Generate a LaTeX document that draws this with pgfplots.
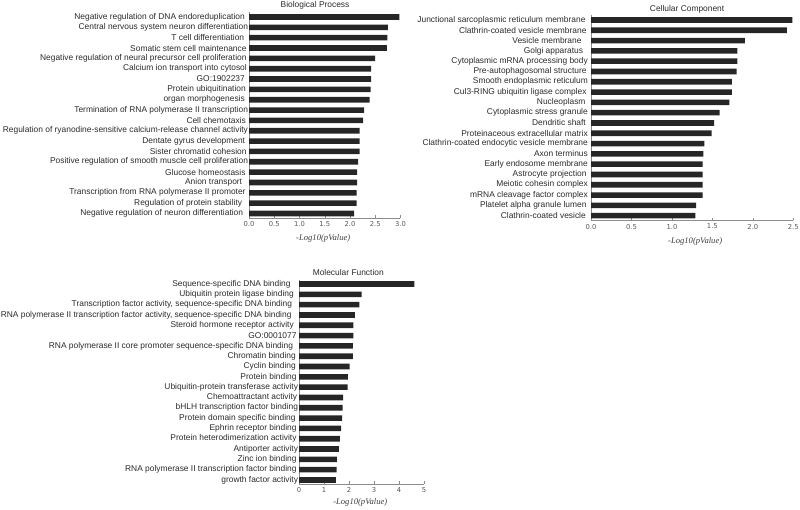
\documentclass[border=0pt]{standalone}
\usepackage{pgfplots}
\pgfplotsset{compat=1.18}
\usepackage{fontspec}
\setmainfont{Liberation Sans}
\newfontfamily\dejavu{DejaVu Sans}
\newfontfamily\timesf{Liberation Serif}
\definecolor{barc}{HTML}{262626}
\definecolor{axc}{HTML}{8C8C8C}
\definecolor{txtc}{HTML}{2A2A2A}
\newcommand{\K}[1]{\kern#1pt}
\pgfplotsset{
  every axis title/.style={anchor=center},
  gostyle/.style={
    scale only axis,
    xbar, bar width=5.6pt,
    y dir=reverse,
    axis x line*=bottom, axis y line*=left,
    axis line style={axc, line width=0.6pt, -},
    ytick={1,...,20}, ytick style={draw=none},
    tick align=inside, major tick length=2.5pt,
    xtick style={axc, line width=0.5pt},
    /pgf/number format/assume math mode=true,
    yticklabel style={font=\fontsize{8.4}{9}\selectfont, text=txtc, inner sep=0.8pt},
    xticklabel style={font=\dejavu\fontsize{6.8}{7.5}\selectfont, text=black!65},
    xlabel style={font=\timesf\itshape\fontsize{8.6}{9}\selectfont, text=black!75, anchor=center},
    title style={font=\fontsize{8.4}{9}\selectfont, text=txtc},
    xmin=0,
    clip=false,
  }
}
\begin{document}
\begin{tikzpicture}[x=1pt,y=1pt]
\useasboundingbox (0,0) rectangle (800,510);
% Biological Process
\begin{axis}[gostyle,
  at={(249pt,292pt)}, anchor=south west,
  width=151.5pt, height=205.5pt,
  xmax=3, xtick={0,0.5,...,3},
  ymin=0.565, ymax=20.435,
  xticklabel style={/pgf/number format/.cd, fixed, fixed zerofill, precision=1},
  title={Biological Process},
  title style={at={(axis description cs:0.436,1)}, yshift=7.5pt},
  xlabel={-Log10(pValue)},
  xlabel style={at={(axis description cs:0.49,0)}, yshift=-20pt},
  yticklabels={
    Negative regulation of DNA endoreduplication\K{3.2},
    Central nervous system neuron differentiation,
    T cell differentiation\K{3.9},
    Somatic stem cell maintenance\K{1.5},
    Negative regulation of neural precursor cell proliferation\K{1.5},
    Calcium ion transport into cytosol\K{1.2},
    GO:1902237\K{3.2},
    Protein ubiquitination\K{2.2},
    organ morphogenesis\K{3.2},
    Termination of RNA polymerase II transcription,
    Cell chemotaxis\K{2.2},
    Regulation of ryanodine-sensitive calcium-release channel activity,
    Dentate gyrus development\K{2.9},
    Sister chromatid cohesion\K{1.5},
    Positive regulation of smooth muscle cell proliferation,
    Glucose homeostasis\K{2.5},
    Anion transport\K{5.9},
    Transcription from RNA polymerase II promoter\K{2.5},
    Regulation of protein stability\K{5.9},
    Negative regulation of neuron differentiation\K{4.9}},
]
\addplot[fill=barc, draw=none] coordinates {
  (2.98,1) (2.75,2) (2.74,3) (2.73,4) (2.50,5) (2.42,6) (2.42,7) (2.41,8)
  (2.39,9) (2.28,10) (2.26,11) (2.19,12) (2.19,13) (2.19,14) (2.16,15)
  (2.14,16) (2.14,17) (2.13,18) (2.13,19) (2.08,20)};
\end{axis}
% Cellular Component
\begin{axis}[gostyle,
  at={(591pt,289.5pt)}, anchor=south west,
  width=202.3pt, height=205.5pt,
  xmax=2.5, xtick={0,0.5,...,2.5},
  ymin=0.515, ymax=20.47,
  xticklabel style={/pgf/number format/.cd, fixed, fixed zerofill, precision=1},
  yticklabel style={inner sep=3pt},
  title={Cellular Component},
  title style={at={(axis description cs:0.475,1)}, yshift=6pt},
  xlabel={-Log10(pValue)},
  xlabel style={at={(axis description cs:0.515,0)}, yshift=-21pt},
  yticklabels={
    Junctional sarcoplasmic reticulum membrane\K{2.3},
    Clathrin-coated vesicle membrane\K{1.3},
    Vesicle membrane\K{6.3},
    Golgi apparatus\K{4.7},
    Cytoplasmic mRNA processing body,
    Pre-autophagosomal structure\K{1.3},
    Smooth endoplasmic reticulum,
    Cul3-RING ubiquitin ligase complex\K{1.3},
    Nucleoplasm\K{2.3},
    Cytoplasmic stress granule,
    Dendritic shaft\K{2},
    Proteinaceous extracellular matrix,
    Clathrin-coated endocytic vesicle membrane,
    Axon terminus,
    Early endosome membrane,
    Astrocyte projection\K{1.3},
    Meiotic cohesin complex,
    mRNA cleavage factor complex,
    Platelet alpha granule lumen\K{1.3},
    Clathrin-coated vesicle\K{2}},
]
\addplot[fill=barc, draw=none] coordinates {
  (2.49,1) (2.42,2) (1.90,3) (1.81,4) (1.81,5) (1.80,6) (1.74,7) (1.74,8)
  (1.71,9) (1.59,10) (1.52,11) (1.49,12) (1.40,13) (1.39,14) (1.38,15)
  (1.38,16) (1.38,17) (1.38,18) (1.30,19) (1.29,20)};
\end{axis}
% Molecular Function
\begin{axis}[gostyle,
  at={(299pt,26pt)}, anchor=south west,
  width=125pt, height=204pt,
  xmax=5, xtick={0,1,...,5},
  ymin=0.61, ymax=20.39,
  title={Molecular Function},
  title style={at={(axis description cs:0.394,1)}, yshift=7.3pt},
  xlabel={-Log10(pValue)},
  xlabel style={at={(axis description cs:0.49,0)}, yshift=-18.3pt},
  yticklabels={
    Sequence-specific DNA binding\K{7.5},
    Ubiquitin protein ligase binding\K{4.2},
    {Transcription factor activity, sequence-specific DNA binding\K{5.9}},
    {RNA polymerase II transcription factor activity, sequence-specific DNA binding\K{6.5}},
    Steroid hormone receptor activity\K{4.2},
    GO:0001077\K{1.5},
    RNA polymerase II core promoter sequence-specific DNA binding\K{4.9},
    Chromatin binding\K{2.2},
    Cyclin binding\K{2.2},
    Protein binding\K{1.5},
    Ubiquitin-protein transferase activity,
    Chemoattractant activity\K{0.9},
    bHLH transcription factor binding,
    Protein domain specific binding\K{2.5},
    Ephrin receptor binding\K{1.5},
    Protein heterodimerization activity\K{1.5},
    Antiporter activity,
    Zinc ion binding\K{1.5},
    RNA polymerase II transcription factor binding\K{1.5},
    growth factor activity},
]
\addplot[fill=barc, draw=none] coordinates {
  (4.61,1) (2.50,2) (2.41,3) (2.23,4) (2.17,5) (2.17,6) (2.15,7) (2.15,8)
  (2.02,9) (1.95,10) (1.94,11) (1.76,12) (1.74,13) (1.72,14) (1.68,15)
  (1.63,16) (1.59,17) (1.51,18) (1.50,19) (1.47,20)};
\end{axis}
\end{tikzpicture}
\end{document}
